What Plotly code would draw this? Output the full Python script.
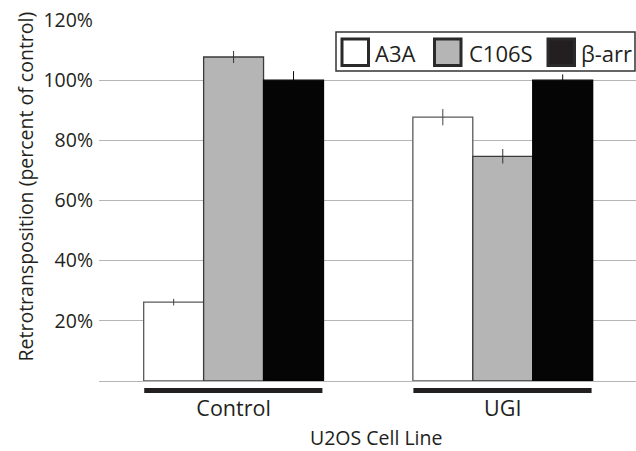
import plotly.graph_objects as go

# Data
cell_lines = ["Control", "UGI"]
series_names = ["A3A", "C106S", "β-arr"]
a3a = [26.2, 87.7]
c106s = [107.7, 74.7]
barr = [100.0, 100.0]
a3a_err = [1.1, 2.7]
c106s_err = [2.0, 2.4]
barr_err = [3.0, 1.9]
y_tick_vals = [20, 40, 60, 80, 100, 120]
y_tick_text = ["20%", "40%", "60%", "80%", "100%", "120%"]

# Styling
FONT = "Open Sans, Noto Sans, sans-serif"
TXT = "#231f20"
fills = ["#ffffff", "#b4b5b4", "#050505"]
outlines = ["#5a5a5a", "#3a3a3a", "#050505"]
err_colors = ["#444444", "#333333", "#080808"]

W, H = 636, 451
L, R, T, B = 99, 0, 20, 70
PW, PH = W - L - R, H - T - B


def px(x):
    return (x - L) / PW


def py(y):
    return (H - B - y) / PH


fig = go.Figure()
for name, vals, errs, fc, lc, ec in zip(
    series_names, [a3a, c106s, barr], [a3a_err, c106s_err, barr_err],
    fills, outlines, err_colors,
):
    fig.add_trace(go.Bar(
        x=list(range(len(cell_lines))), y=vals, name=name, showlegend=False,
        marker=dict(color=fc, line=dict(color=lc, width=1.3)),
        error_y=dict(type="data", array=errs, visible=True,
                     color=ec, thickness=1, width=0),
    ))

shapes = []
# thick bars under each group
for i in range(len(cell_lines)):
    shapes.append(dict(type="line", xref="x", yref="paper",
                       x0=i - 0.332, x1=i + 0.33, y0=py(390.5), y1=py(390.5),
                       line=dict(color=TXT, width=5)))

# legend box
shapes.append(dict(type="rect", xref="paper", yref="paper",
                   x0=px(336), x1=px(635), y0=py(71), y1=py(32),
                   line=dict(color="#333333", width=1.5), fillcolor="white"))
sq_left = [342, 434.5, 548]
txt_left = [373, 466.5, 579]
annotations = []
for name, fc, sx, tx in zip(series_names, fills, sq_left, txt_left):
    shapes.append(dict(type="rect", xref="paper", yref="paper",
                       x0=px(sx), x1=px(sx + 26.5), y0=py(65.5), y1=py(39),
                       line=dict(color="#2a2a2a", width=3),
                       fillcolor=fc if fc != "#050505" else "#231f20"))
    annotations.append(dict(text=name, xref="paper", yref="paper",
                            x=px(tx), y=py(52.5), xanchor="left", yanchor="middle",
                            showarrow=False, font=dict(family=FONT, size=22, color=TXT)))

annotations.append(dict(text="Retrotransposition (percent of control)", textangle=-90,
                        xref="paper", yref="paper", x=px(25), y=py(186.5),
                        xanchor="center", yanchor="middle", showarrow=False,
                        font=dict(family=FONT, size=19.5, color=TXT)))
annotations.append(dict(text="U2OS Cell Line", xref="paper", yref="paper",
                        x=px(376), y=py(437.5), xanchor="center", yanchor="middle",
                        showarrow=False, font=dict(family=FONT, size=19.5, color=TXT)))

fig.update_layout(
    width=W, height=H,
    margin=dict(l=L, r=R, t=T, b=B),
    paper_bgcolor="white", plot_bgcolor="white",
    barmode="group", bargap=0.332, bargroupgap=0,
    shapes=shapes, annotations=annotations,
    font=dict(family=FONT, color=TXT),
)
fig.update_xaxes(
    range=[-0.5, 1.495], tickvals=list(range(len(cell_lines))), ticktext=cell_lines,
    showgrid=False, zeroline=False, showline=False, ticks="",
    tickfont=dict(family=FONT, size=21.5, color=TXT), ticklabelstandoff=12,
)
fig.update_yaxes(
    range=[0, 120], tickvals=y_tick_vals, ticktext=y_tick_text,
    showgrid=True, gridcolor="#b5b5b5", gridwidth=1,
    zeroline=True, zerolinecolor="#b5b5b5", zerolinewidth=1,
    showline=False, ticks="", ticklabelstandoff=5,
    tickfont=dict(family=FONT, size=19.5, color=TXT),
)

fig.write_html("out.html")
